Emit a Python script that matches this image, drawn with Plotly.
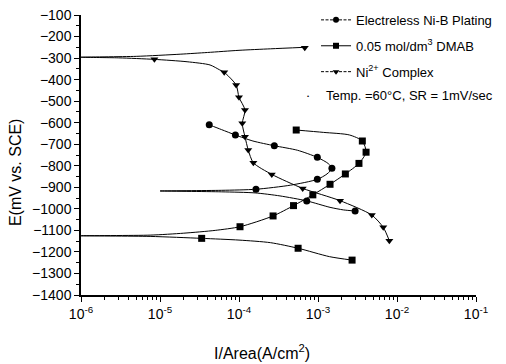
import plotly.graph_objects as go

# ---------------- data ----------------
series_names = [
    "Electreless Ni-B Plating",
    "0.05 mol/dm<sup>3</sup> DMAB",
    "Ni<sup>2+</sup> Complex",
]
condition_text = "Temp. =60°C, SR = 1mV/sec"

# Electreless Ni-B plating (circles)
nib_curve_i = [4.2e-5, 6e-5, 9e-5, 1.5e-4, 2.8e-4, 5.5e-4, 9.8e-4, 1.35e-3, 1.5e-3, 1.3e-3,
               9.8e-4, 4.5e-4, 1.64e-4, 6e-5, 1.0e-5, 6e-5, 1.6e-4, 3.3e-4, 7.2e-4, 1.42e-3,
               2.1e-3, 2.95e-3]
nib_curve_e = [-610, -632, -657, -685, -707, -728, -761, -790, -812, -838,
               -863, -890, -909, -914, -917, -921, -926, -940, -963, -993,
               -1005, -1010]
nib_mark_i = [4.2e-5, 9e-5, 2.8e-4, 9.8e-4, 1.5e-3, 9.8e-4, 1.64e-4, 7.2e-4, 2.95e-3]
nib_mark_e = [-610, -657, -707, -761, -812, -863, -909, -963, -1010]

# 0.05 mol/dm3 DMAB (squares)
dmab_curve_i = [5.3e-4, 1.17e-3, 2.5e-3, 3.64e-3, 4.06e-3, 3.3e-3, 2.22e-3, 1.42e-3, 8.6e-4,
                4.9e-4, 2.7e-4, 1.03e-4, 5e-5, 2e-5, 7.5e-6, 1e-6, 7.5e-6, 3.37e-5, 1.0e-4,
                2.5e-4, 5.6e-4, 1.4e-3, 2.7e-3]
dmab_curve_e = [-634, -645, -657, -685, -737, -789, -838, -886, -935,
                -985, -1033, -1083, -1100, -1113, -1122, -1125, -1128, -1137, -1145,
                -1157, -1183, -1222, -1238]
dmab_mark_i = [5.3e-4, 3.64e-3, 4.06e-3, 3.3e-3, 2.22e-3, 1.42e-3, 8.6e-4, 4.9e-4, 2.7e-4,
               1.03e-4, 3.37e-5, 5.6e-4, 2.7e-3]
dmab_mark_e = [-634, -685, -737, -789, -838, -886, -935, -985, -1033,
               -1083, -1137, -1183, -1238]

# Ni2+ complex (down triangles)
ni_curve_i = [6.8e-4, 2.5e-4, 1e-4, 4e-5, 1.8e-5, 5e-6, 1e-6, 3e-6, 8.5e-6, 2.2e-5, 4.3e-5,
              5.7e-5, 6.5e-5, 9.2e-5, 1.0e-4, 1.19e-4, 1.1e-4, 1.19e-4, 1.31e-4, 1.52e-4,
              2.6e-4, 6.4e-4, 1.9e-3, 4.8e-3, 6.7e-3, 8.0e-3]
ni_curve_e = [-250, -257, -264, -274, -282, -292, -296, -299, -306, -317, -332,
              -355, -366, -425, -482, -541, -603, -665, -727, -786,
              -840, -905, -962, -1029, -1086, -1148]
ni_mark_i = [6.8e-4, 8.5e-6, 6.5e-5, 9.2e-5, 1.0e-4, 1.19e-4, 1.1e-4, 1.19e-4, 1.31e-4,
             1.52e-4, 2.6e-4, 6.4e-4, 1.9e-3, 4.8e-3, 6.7e-3, 8.0e-3]
ni_mark_e = [-252, -306, -366, -425, -482, -541, -603, -665, -727,
             -786, -840, -905, -962, -1029, -1086, -1148]

y_ticks = list(range(-100, -1500, -100))
x_tick_exponents = [-6, -5, -4, -3, -2, -1]

# ---------------- figure ----------------
FONT = "Liberation Sans, Arial, sans-serif"
fig = go.Figure()

series = [
    (nib_curve_i, nib_curve_e, nib_mark_i, nib_mark_e, "circle", "3px,1.5px"),
    (dmab_curve_i, dmab_curve_e, dmab_mark_i, dmab_mark_e, "square", "solid"),
    (ni_curve_i, ni_curve_e, ni_mark_i, ni_mark_e, "triangle-down", "3px,1.5px"),
]

for k, (ci, ce, mi, me, sym, dash) in enumerate(series):
    fig.add_trace(go.Scatter(x=ci, y=ce, mode="lines",
                             line=dict(color="black", width=1, shape="spline", smoothing=0.7),
                             showlegend=False, hoverinfo="skip"))
    fig.add_trace(go.Scatter(x=mi, y=me, mode="markers",
                             marker=dict(symbol=sym, size=7, color="black"),
                             showlegend=False))
    fig.add_trace(go.Scatter(x=[None], y=[None], mode="lines+markers", name=series_names[k],
                             line=dict(color="black", width=1, dash=dash),
                             marker=dict(symbol=sym, size=6, color="black"),
                             legendgroup=f"g{k}", showlegend=True))

fig.update_layout(
    width=506, height=364,
    margin=dict(l=81, r=30, t=15, b=69, autoexpand=False),
    paper_bgcolor="white", plot_bgcolor="white",
    font=dict(family=FONT, color="black", size=13),
    legend=dict(x=0.595, y=1.036, xanchor="left", yanchor="top",
                bgcolor="rgba(0,0,0,0)", font=dict(size=13, family=FONT),
                traceorder="grouped", tracegroupgap=6, itemwidth=30),
    xaxis=dict(type="log", range=[-6, -1],
               tickvals=[10.0 ** e for e in x_tick_exponents],
               ticktext=[f"10<sup>{e}</sup>" for e in x_tick_exponents],
               ticks="outside", ticklen=5, tickwidth=1, tickcolor="black",
               showline=True, linecolor="black", linewidth=1.5,
               showgrid=False, zeroline=False,
               tickfont=dict(size=14, family=FONT),
               minor=dict(ticks="outside", ticklen=3, dtick="D1", tickcolor="black", showgrid=False)),
    yaxis=dict(range=[-1400, -100], tickvals=y_ticks,
               ticks="outside", ticklen=5, tickwidth=1, tickcolor="black",
               showline=True, linecolor="black", linewidth=1.5,
               showgrid=False, zeroline=False,
               tickfont=dict(size=14, family=FONT),
               minor=dict(ticks="outside", ticklen=3, dtick=50, tickcolor="black", showgrid=False)),
    annotations=[
        dict(text="I/Area(A/cm<sup>2</sup>)", xref="paper", yref="paper", x=0.457, y=-0.204,
             xanchor="center", yanchor="middle", showarrow=False, font=dict(size=16, family=FONT)),
        dict(text="E(mV vs. SCE)", xref="paper", yref="paper", x=-0.167, y=0.439,
             xanchor="center", yanchor="middle", textangle=-90, showarrow=False,
             font=dict(size=16, family=FONT)),
        dict(text="•", xref="paper", yref="paper", x=0.575, y=0.711,
             xanchor="center", yanchor="middle", showarrow=False, font=dict(size=6, family=FONT)),
        dict(text=condition_text, xref="paper", yref="paper", x=0.615, y=0.711,
             xanchor="left", yanchor="middle", showarrow=False, font=dict(size=13, family=FONT)),
    ],
)

fig.write_html("out.html")
